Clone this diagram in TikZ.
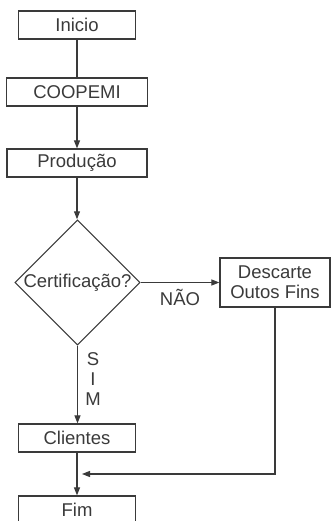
\documentclass[tikz,border=0pt]{standalone}
\usepackage{fontspec}
\setmainfont{Liberation Sans}
\usetikzlibrary{shapes.geometric,arrows.meta}
\definecolor{ink}{HTML}{3A3A3A}
\begin{document}
\begin{tikzpicture}[x=1pt,y=-1pt,
  every node/.style={font=\fontsize{18.5}{20}\selectfont, text=ink},
  box/.style={draw=ink, line width=1.2pt, rectangle, inner sep=0pt, minimum height=28pt},
  dec/.style={draw=ink, line width=1.2pt, diamond, inner sep=0pt, minimum width=124pt, minimum height=121pt},
  link/.style={draw=ink, line width=1.1pt},
  arr/.style={link, -{Triangle[length=8pt,width=6pt]}},
  lbl/.style={inner sep=0pt}]
\clip (0,0) rectangle (332,521);
\useasboundingbox (0,0) rectangle (332,521);
\node[box, minimum width=117pt] (inicio) at (77,25) {Inicio};
\node[box, minimum width=141pt] (coop) at (77,92) {COOPEMI};
\node[box, minimum width=140pt] (prod) at (77,163) {Produção};
\node[dec] (cert) at (77.5,282.5) {Certificação?};
\node[box, minimum width=110pt, minimum height=49pt, align=center] (desc) at (275,282.5) {Descarte\\Outos Fins};
\node[box, minimum width=117pt] (cli) at (77,438) {Clientes};
\node[box, minimum width=117pt] (fim) at (77,510) {Fim};
\node[lbl] (nao) at (180,297) {NÃO};
\node[lbl, align=center, font=\fontsize{18.5}{20}\selectfont] (sim) at (93,379) {S\\I\\M};
\coordinate (join) at (82,474);
\draw[link] (inicio.south) -- (coop.north);
\draw[arr] (coop.south) -- (prod.north);
\draw[arr] (prod.south) -- (prod.south |- cert.north);
\draw[arr] (cert.east) -- (desc.west);
\draw[arr] (cert.south) -- (cert.south |- cli.north);
\draw[arr] (cli.south) -- (fim.north);
\draw[arr] (desc.south) -- (desc.south |- join) -- (join);
\end{tikzpicture}
\end{document}
